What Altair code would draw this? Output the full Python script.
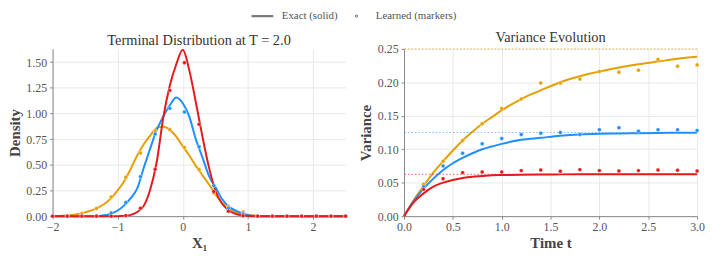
import altair as alt
import pandas as pd

# ---------------- data ----------------
series = ["theta = 0.5", "theta = 1", "theta = 2"]
colors = ["#E69F00", "#1E90FF", "#E41A1C"]

# Left panel: terminal densities (exact, solid lines)
x_grid = [-2.0, -1.9, -1.8, -1.7, -1.6, -1.5, -1.4, -1.3, -1.2, -1.1,
          -1.0, -0.9, -0.8, -0.7, -0.6, -0.5, -0.4, -0.3, -0.2, -0.1,
          0.0, 0.1, 0.2, 0.3, 0.4, 0.5, 0.6, 0.7, 0.8, 0.9,
          1.0, 1.1, 1.2, 1.3, 1.4, 1.5, 1.6, 1.7, 1.8, 1.9,
          2.0, 2.1, 2.2, 2.3, 2.4, 2.5]
dens_orange = [0.0, 0.002, 0.006, 0.012, 0.022, 0.037, 0.056, 0.083, 0.12, 0.175,
               0.25, 0.34, 0.46, 0.59, 0.70, 0.785, 0.86, 0.87, 0.84, 0.775,
               0.68, 0.59, 0.49, 0.40, 0.31, 0.215, 0.13, 0.075, 0.043, 0.024,
               0.013, 0.006, 0.002, 0.0, 0.0, 0.0, 0.0, 0.0, 0.0, 0.0,
               0.0, 0.0, 0.0, 0.0, 0.0, 0.0]
dens_blue = [0.0, 0.0, 0.0, 0.0, 0.0, 0.0, 0.0, 0.002, 0.008, 0.025,
             0.055, 0.105, 0.175, 0.27, 0.47, 0.66, 0.84, 0.97, 1.08, 1.155,
             1.10, 0.97, 0.75, 0.575, 0.395, 0.285, 0.17, 0.096, 0.058, 0.03,
             0.01, 0.002, 0.0, 0.0, 0.0, 0.0, 0.0, 0.0, 0.0, 0.0,
             0.0, 0.0, 0.0, 0.0, 0.0, 0.0]
dens_red = [0.0, 0.0, 0.0, 0.0, 0.0, 0.0, 0.0, 0.0, 0.0, 0.0,
            0.0, 0.003, 0.012, 0.04, 0.10, 0.26, 0.53, 0.96, 1.27, 1.48,
            1.62, 1.42, 1.11, 0.78, 0.48, 0.25, 0.125, 0.058, 0.024, 0.008,
            0.002, 0.0, 0.0, 0.0, 0.0, 0.0, 0.0, 0.0, 0.0, 0.0,
            0.0, 0.0, 0.0, 0.0, 0.0, 0.0]

# Left panel: learned densities (markers)
x_mark = [-2.0, -1.775, -1.55, -1.325, -1.1, -0.875, -0.65, -0.425, -0.2, 0.025,
          0.25, 0.475, 0.7, 0.925, 1.15, 1.375, 1.6, 1.825, 2.05, 2.275, 2.5]
mark_orange = [0.0, 0.005, 0.025, 0.075, 0.186, 0.38, 0.615, 0.83, 0.845, 0.67,
               0.455, 0.225, 0.093, 0.04, 0.0, 0.0, 0.0, 0.0, 0.0, 0.0, 0.0]
mark_blue = [0.0, 0.0, 0.0, 0.003, 0.03, 0.133, 0.385, 0.80, 1.05, 1.015,
             0.675, 0.297, 0.077, 0.021, 0.0, 0.0, 0.0, 0.0, 0.0, 0.0, 0.0]
mark_red = [0.0, 0.0, 0.0, 0.0, 0.0, 0.005, 0.078, 0.457, 1.225, 1.495,
            0.895, 0.24, 0.048, 0.003, 0.0, 0.0, 0.0, 0.0, 0.0, 0.0, 0.0]

# Right panel: variance evolution (exact)
t_grid = [0.0, 0.1, 0.2, 0.3, 0.4, 0.5, 0.6, 0.7, 0.8, 0.9, 1.0,
          1.2, 1.4, 1.6, 1.8, 2.0, 2.2, 2.4, 2.6, 2.8, 3.0]
var_orange = [0.0, 0.024, 0.045, 0.065, 0.082, 0.098, 0.113, 0.126, 0.138, 0.148, 0.158,
              0.175, 0.188, 0.200, 0.209, 0.216, 0.222, 0.227, 0.231, 0.235, 0.238]
var_blue = [0.0, 0.023, 0.041, 0.056, 0.069, 0.079, 0.087, 0.094, 0.100, 0.104, 0.108,
            0.114, 0.117, 0.120, 0.122, 0.123, 0.1235, 0.124, 0.1243, 0.1245, 0.1247]
var_red = [0.0, 0.021, 0.034, 0.044, 0.050, 0.054, 0.057, 0.059, 0.060, 0.061, 0.0614,
           0.062, 0.0623, 0.0624, 0.0625, 0.0625, 0.0625, 0.0625, 0.0625, 0.0625, 0.0625]

# Right panel: variance evolution (learned markers)
t_mark = [0.2, 0.4, 0.6, 0.8, 1.0, 1.2, 1.4, 1.6, 1.8, 2.0, 2.2, 2.4, 2.6, 2.8, 3.0]
vmark_orange = [0.0475, 0.082, 0.113, 0.138, 0.161, 0.175, 0.199, 0.199, 0.205, 0.216,
                0.215, 0.218, 0.234, 0.224, 0.226]
vmark_blue = [0.044, 0.075, 0.094, 0.108, 0.116, 0.122, 0.124, 0.125, 0.122, 0.129,
              0.132, 0.127, 0.129, 0.129, 0.128]
vmark_red = [0.040, 0.056, 0.065, 0.066, 0.066, 0.068, 0.069, 0.067, 0.0695, 0.068,
             0.0675, 0.068, 0.069, 0.0685, 0.0675]

# stationary variances (dotted reference lines)
var_stationary = [0.25, 0.125, 0.0625]

legend_items = ["Exact (solid)", "Learned (markers)"]


def long_df(xs, cols, xname, yname):
    rows = []
    for name, vals in zip(series, cols):
        for i, (a, b) in enumerate(zip(xs, vals)):
            rows.append({xname: a, yname: b, "series": name, "order": i})
    return pd.DataFrame(rows)


dens_lines = long_df(x_grid, [dens_orange, dens_blue, dens_red], "x", "density")
dens_marks = long_df(x_mark, [mark_orange, mark_blue, mark_red], "x", "density")
var_lines = long_df(t_grid, [var_orange, var_blue, var_red], "t", "variance")
var_marks = long_df(t_mark, [vmark_orange, vmark_blue, vmark_red], "t", "variance")
stat_df = pd.DataFrame({"series": series, "variance": var_stationary})
legend_df = pd.DataFrame({"kind": legend_items})

SERIF = "Liberation Serif"
W, H = 296, 169

axis_style = dict(
    labelFont=SERIF, labelFontSize=12, labelColor="#555", labelFlush=False,
    labelOverlap=False, labelPadding=3,
    titleFont=SERIF, titleFontSize=15, titleFontWeight="bold", titleColor="#444",
    domainColor="#888", tickColor="#888", tickSize=3,
    gridColor="#e9e9e9", gridWidth=1,
)

color_scale = alt.Scale(domain=series, range=colors)
col = alt.Color("series:N", scale=color_scale, legend=None)

# ---------------- left panel ----------------
xl = alt.X("x:Q", scale=alt.Scale(domain=[-2, 2.5], nice=False),
           axis=alt.Axis(values=[-2, -1, 0, 1, 2], format="d", title="X₁",
                         titlePadding=3, **axis_style))
yl = alt.Y("density:Q", scale=alt.Scale(domain=[0, 1.63], nice=False),
           axis=alt.Axis(values=[0, 0.25, 0.5, 0.75, 1.0, 1.25, 1.5], format=".2f",
                         title="Density", titlePadding=3, **axis_style))

left_lines = alt.Chart(dens_lines).mark_line(strokeWidth=2, interpolate="monotone").encode(
    x=xl, y=yl, color=col, order="order:Q")
left_pts = alt.Chart(dens_marks).mark_circle(size=16, opacity=1, stroke="white",
                                             strokeWidth=0.4).encode(
    x=xl, y=yl, color=col)

legend_layer = alt.Chart(legend_df).mark_point(
    filled=False, color="#777", strokeWidth=2, opacity=0, size=1).encode(
    x=alt.value(150), y=alt.value(80),
    shape=alt.Shape("kind:N",
                    scale=alt.Scale(domain=legend_items,
                                    range=["M-2,0H2",
                                           "M-0.08,0A0.08,0.08,0,1,0,0.08,0A0.08,0.08,0,1,0,-0.08,0Z"]),
                    legend=alt.Legend(orient="none", legendX=205, legendY=-40,
                                      direction="horizontal", title=None,
                                      labelFont=SERIF, labelFontSize=11, labelColor="#555",
                                      symbolSize=121, symbolStrokeWidth=2.2,
                                      symbolStrokeColor="#777",
                                      symbolOpacity=1, columnPadding=11, labelOffset=12.5,
                                      padding=0)))

left = alt.layer(left_lines, left_pts, legend_layer).properties(
    width=W, height=H, title="Terminal Distribution at T = 2.0")

# ---------------- right panel ----------------
xr = alt.X("t:Q", scale=alt.Scale(domain=[0, 3], nice=False),
           axis=alt.Axis(values=[0, 0.5, 1, 1.5, 2, 2.5, 3], format=".1f", title="Time t",
                         titlePadding=3, **axis_style))
yr = alt.Y("variance:Q", scale=alt.Scale(domain=[0, 0.25], nice=False),
           axis=alt.Axis(values=[0, 0.05, 0.1, 0.15, 0.2, 0.25], format=".2f",
                         title="Variance", titlePadding=4, **axis_style))

right_lines = alt.Chart(var_lines).mark_line(strokeWidth=2, interpolate="monotone").encode(
    x=xr, y=yr, color=col, order="order:Q")
rules = alt.Chart(stat_df).mark_rule(strokeDash=[1.5, 2], strokeWidth=1.2, opacity=0.55).encode(
    y=yr, color=col)
right_pts = alt.Chart(var_marks).mark_circle(size=16, opacity=1, stroke="white",
                                            strokeWidth=0.4).encode(
    x=xr, y=yr, color=col)

right = alt.layer(right_lines, rules, right_pts).properties(
    width=W, height=H, title="Variance Evolution")

chart = alt.hconcat(left, right, spacing=59, bounds="flush").properties(
    padding={"left": 0, "top": 0, "right": 0, "bottom": 0}
).configure(
    style={"guide-label": {"font": SERIF, "fontSize": 12, "fill": "#555"}}
).configure_view(strokeWidth=0).configure_title(
    font=SERIF, fontSize=14.5, fontWeight="normal", color="#333", offset=-3, frame="group"
).configure_axis(
    labelFont=SERIF, labelFontSize=12, labelColor="#555", labelOverlap=False
).configure_legend(
    labelFont=SERIF, labelFontSize=11, labelColor="#555"
)

chart.save("out.html", embed_options={"renderer": "svg", "actions": False})
